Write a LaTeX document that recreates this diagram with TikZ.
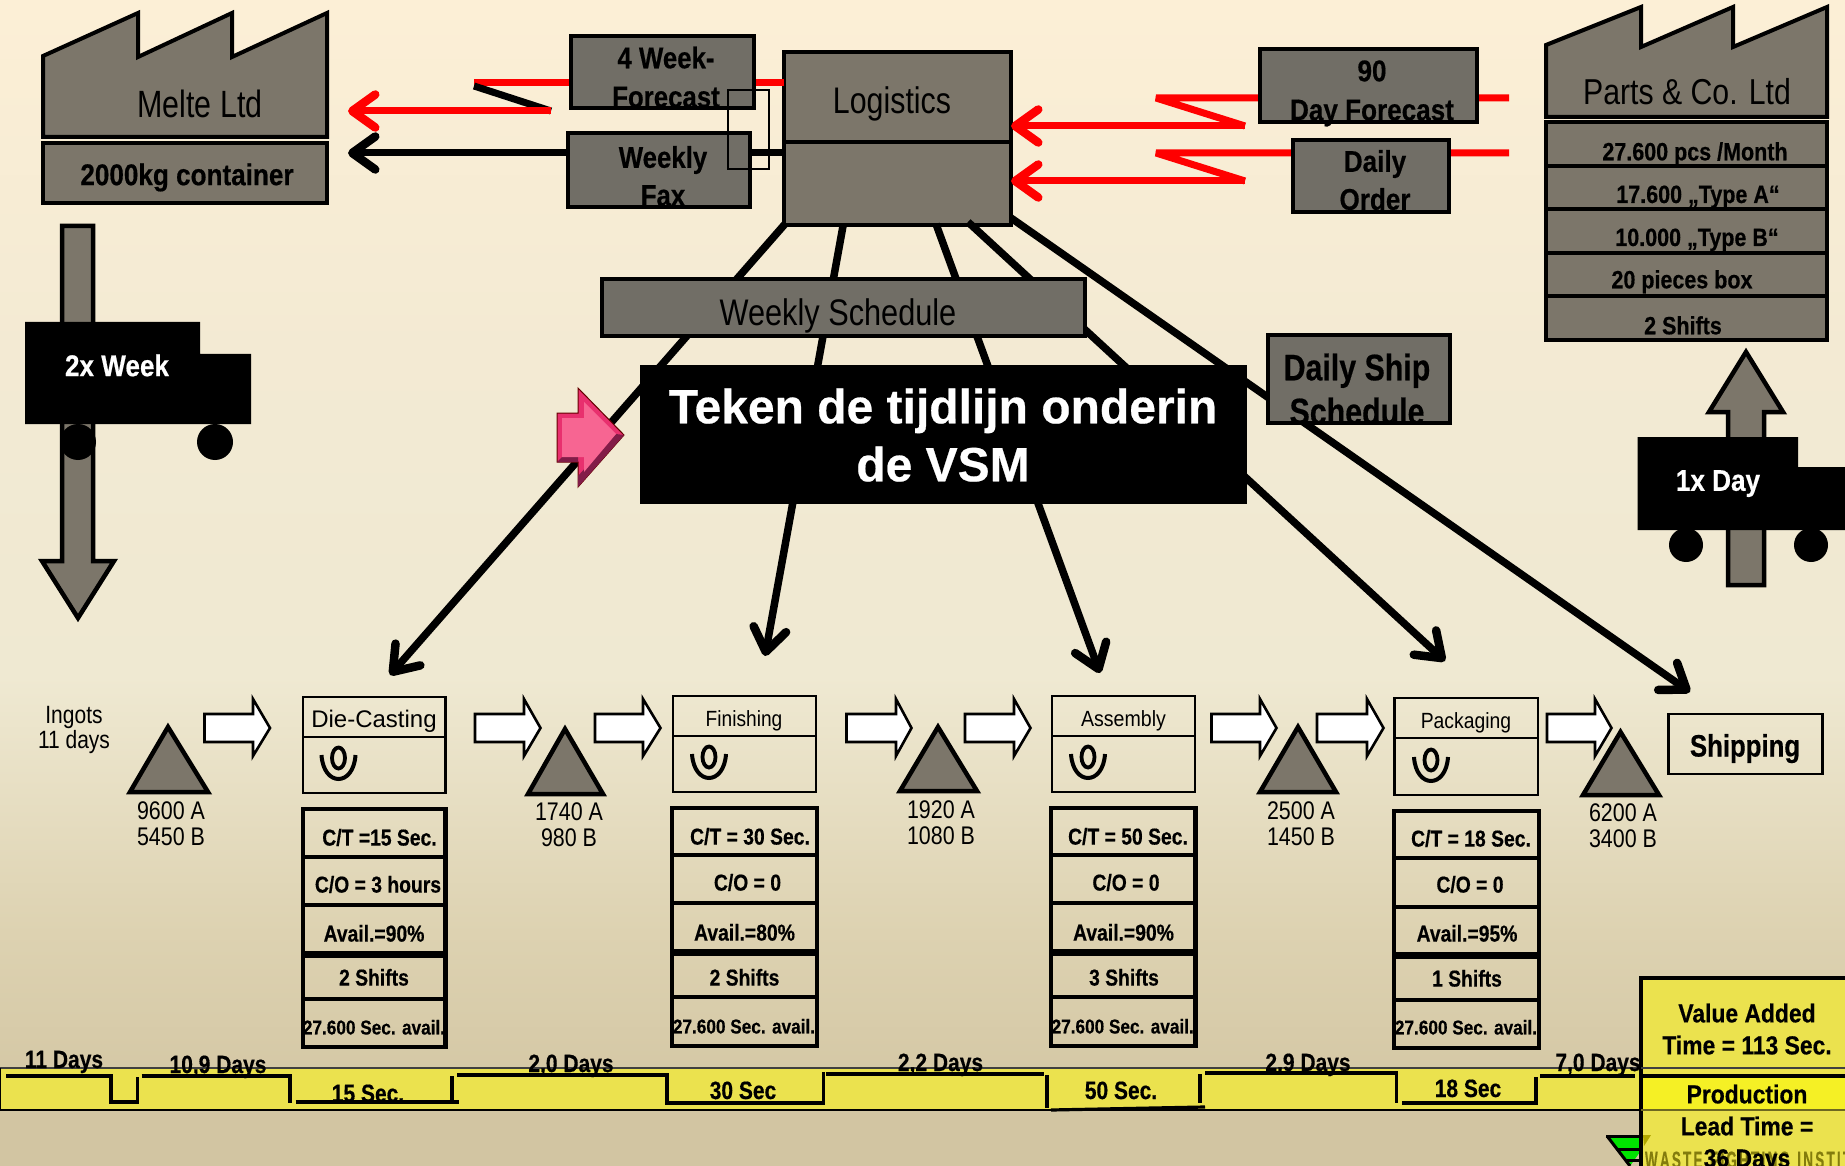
\documentclass[tikz,border=0pt]{standalone}
\usepackage{fontspec}
\setmainfont{Liberation Sans}[BoldFeatures={FakeBold=0.5}]
\usetikzlibrary{arrows.meta,calc}
\definecolor{gf}{HTML}{7C766A}
\definecolor{gt}{HTML}{716E66}
\definecolor{stripY}{HTML}{EBE24E}
\definecolor{prodY}{HTML}{F5F025}
\definecolor{cT}{HTML}{FCEFD6}
\definecolor{cM}{HTML}{F3EAD3}
\definecolor{cN}{HTML}{EFE9D2}
\definecolor{cO}{HTML}{DDD2B1}
\definecolor{cB}{HTML}{D2C5A2}
\pgfdeclareverticalshading{bgs}{100bp}{color(0bp)=(cB); color(25bp)=(cB); color(27bp)=(cB); color(35bp)=(cO); color(46bp)=(cN); color(60bp)=(cM); color(75bp)=(cT); color(100bp)=(cT)}
\tikzset{
  x=1pt,y=-1pt,
  barb/.tip={Straight Barb[length=23pt,width=33pt,line width=8.5pt,round]},
  box/.style={draw=black,line width=4pt,fill=gf,inner sep=0,outer sep=0},
  tbox/.style={box,fill=gt},
  wbox/.style={draw=black,line width=2.2pt,inner sep=0,outer sep=0},
  dbox/.style={draw=black,line width=4.2pt,inner sep=0,outer sep=0},
  lbl/.style={inner sep=0,outer sep=0,text=black},
  conn/.style={line width=7.5pt,draw=black,-barb},
  sig/.style={line width=7pt,draw=red,line join=bevel},
  sigh/.style={sig,-barb},
  stepline/.style={line width=3.2pt,draw=black},
  blockarrow/.style={draw=black,line width=2.6pt,fill=white,miter limit=10},
  tria/.style={draw=black,line width=4.5pt,fill=gf,line join=miter},
}
% name, x1,y1,x2,y2, style, text
\newcommand\bx[7]{\node[#6,minimum width={#4pt-#2pt},minimum height={#5pt-#3pt}] (#1) at ({(#2+#4)/2},{(#3+#5)/2}) {#7};}
% name, x, y, size, skip, xscale, font cmds, text
\newcommand\lbt[8]{\node[lbl] (#1) at ({#2},{#3+.36*#4-.2*#5}) {\fontsize{#4}{#5}\selectfont #7\scalebox{#6}[1]{\begin{tabular}{@{}c@{}}#8\end{tabular}}};}
\newcommand\lb[7]{\lbt{#1}{#2}{#3}{#4}{#4}{#5}{#6}{#7}}
\newcommand\wa[3]{\draw[blockarrow] (#1,714)--(#2,714)--(#2,699)--(#3,728)--(#2,756)--(#2,742)--(#1,742)--cycle;}
\newcommand\tri[5]{\draw[tria] (#1,#2)--(#4,#5)--(#3,#5)--cycle;}
\newcommand\oper[2]{\draw[line width=3.8pt] (#1,#2) ellipse[x radius=6.5,y radius=10.5];
  \draw[line width=4pt] ({#1-17},{#2-3}) .. controls ({#1-15},{#2+29}) and ({#1+15},{#2+29}) .. ({#1+17},{#2-3});}
\begin{document}
\begin{tikzpicture}
\useasboundingbox (0,0) rectangle (1845,1166);
\begin{scope}
\clip (0,0) rectangle (1845,1166);
\shade[shading=bgs] (0,0) rectangle (1845,1166);

% ---------- connectors from Logistics
\bx{lgt}{784}{52}{1011}{142}{box}{}
\bx{lgb}{784}{142}{1011}{225}{box}{}
\coordinate (s1) at (785,224); \coordinate (e1) at (390,675);
\coordinate (s2) at (843,226); \coordinate (e2) at (765,656);
\coordinate (s3) at (936,224); \coordinate (e3) at (1100,673);
\coordinate (s4) at (968,222); \coordinate (e4) at (1445,661);
\coordinate (s5) at (1011,218); \coordinate (e5) at (1690,692);
\draw[conn] (s1)--(e1);
\draw[conn] (s2)--(e2);
\draw[conn] (s3)--(e3);
\draw[conn] (s4)--(e4);
\draw[conn] (s5)--(e5);

% ---------- signal lines left
\coordinate (z1a) at (474,83); \coordinate (z1b) at (551,111);
\coordinate (t1) at (348,111); \coordinate (t2) at (348,153);
\draw[sig] (lgt.west|-z1a)--(z1a);
\draw[line width=7pt] ($(z1a)+(0,3)$)--($(z1b)+(0,0)$);
\draw[sigh] (z1b)--(t1);
\draw[line width=7pt,-barb] (lgb.west|-t2)--(t2);

% ---------- signal lines right
\coordinate (z2a) at (1156,98); \coordinate (z2b) at (1245,126); \coordinate (z2c) at (1509,98);
\coordinate (z3a) at (1156,153); \coordinate (z3b) at (1245,181); \coordinate (z3c) at (1509,153);
\draw[sig] (z2c)--(z2a)--(z2b);
\draw[sigh] (z2b)--(lgt.east|-z2b);
\draw[sig] (z3c)--(z3a)--(z3b);
\draw[sigh] (z3b)--(lgb.east|-z3b);

% ---------- factories
\draw[line width=4pt,fill=gf,line join=miter] (43,137)--(43,56)--(138,13)--(138,57)--(232,13)--(232,57)--(327,13)--(327,137)--cycle;
\lb{melte}{200}{103}{38}{.8}{}{Melte Ltd}
\bx{cont}{43}{143}{327}{203}{box}{}
\lb{contl}{187}{174}{30}{.87}{\bfseries}{2000kg container}
\draw[line width=4pt,fill=gf,line join=miter] (1546,117)--(1546,45)--(1641,7)--(1641,47)--(1733,7)--(1733,47)--(1827,7)--(1827,117)--cycle;
\lb{parts}{1687}{91}{36}{.84}{}{Parts \& Co. Ltd}
\bx{pr1}{1546}{122}{1827}{166}{box}{}
\bx{pr2}{1546}{166}{1827}{209}{box}{}
\bx{pr3}{1546}{209}{1827}{253}{box}{}
\bx{pr4}{1546}{253}{1827}{296}{box}{}
\bx{pr5}{1546}{296}{1827}{340}{box}{}
\lb{prl1}{1695}{151}{25}{.86}{\bfseries}{27.600 pcs /Month}
\lb{prl2}{1698}{194}{25}{.86}{\bfseries}{17.600 „Type A“}
\lb{prl3}{1697}{237}{25}{.86}{\bfseries}{10.000 „Type B“}
\lb{prl4}{1682}{279}{25}{.86}{\bfseries}{20 pieces box}
\lb{prl5}{1683}{325}{25}{.86}{\bfseries}{2 Shifts}

% ---------- info boxes
\bx{fc}{571}{36}{754}{108}{tbox}{}
\lbt{fcl}{666}{77}{30}{39}{.86}{\bfseries}{4 Week-\\Forecast}
\bx{fax}{568}{133}{750}{207}{tbox}{}
\lbt{faxl}{663}{176}{30}{38}{.86}{\bfseries}{Weekly\\Fax}
\lb{lgl}{892}{100}{37}{.82}{}{Logistics}
\draw[line width=1.6pt] (728,90) rectangle (769,169);
\bx{dfc}{1260}{49}{1477}{122}{tbox}{}
\lbt{dfcl}{1372}{90}{30}{39}{.87}{\bfseries}{90\\Day Forecast}
\bx{dor}{1293}{140}{1449}{212}{tbox}{}
\lbt{dorl}{1375}{180}{30}{38}{.87}{\bfseries}{Daily\\Order}
\bx{ws}{602}{279}{1085}{336}{tbox}{}
\lb{wsl}{838}{312}{37}{.83}{}{Weekly Schedule}
\bx{dss}{1268}{335}{1450}{423}{tbox}{}
\lbt{dssl}{1357}{389}{37}{44}{.82}{\bfseries}{Daily Ship\\Schedule}

% ---------- inbound / outbound trucks
\draw[line width=4.5pt,fill=gf] (62,226)--(93,226)--(93,561)--(114,561)--(78,618)--(42,561)--(62,561)--cycle;
\fill[black] (25,322)--(200,322)--(200,354)--(251,354)--(251,424)--(25,424)--cycle;
\fill[black] (78,442) circle[radius=18]; \fill[black] (215,442) circle[radius=18];
\lb{tr1}{117}{365}{30}{.87}{\bfseries\color{white}}{2x Week}
\draw[line width=4.5pt,fill=gf] (1728,585)--(1764,585)--(1764,412)--(1783,412)--(1746,352)--(1709,412)--(1728,412)--cycle;
\fill[black] (1637.5,437)--(1798,437)--(1798,467)--(1850,467)--(1850,530)--(1637.5,530)--cycle;
\fill[black] (1686,545) circle[radius=17]; \fill[black] (1811,545) circle[radius=17];
\lb{tr2}{1718}{480}{30}{.87}{\bfseries\color{white}}{1x Day}

% ---------- black notice with pink arrow
\fill[black] (640,365) rectangle (1247,504);
\lbt{noticel}{943}{435}{48}{58}{1}{\bfseries\color{white}}{Teken de tijdlijn onderin\\de VSM}
\draw[draw=black!60!red,line width=1pt,fill={rgb,255:red,232;green,48;blue,110}] (557,413)--(578,413)--(578,388)--(624,435)--(578,487)--(578,462)--(557,462)--cycle;
\fill[fill={rgb,255:red,130;green,28;blue,72}] (624,435)--(578,487)--(578,476)--(616,434)--cycle;
\fill[fill={rgb,255:red,130;green,28;blue,72}] (557,462)--(578,462)--(578,457)--(562,457)--cycle;
\fill[fill={rgb,255:red,247;green,101;blue,146}] (562,418)--(584,418)--(584,402)--(616,434)--(584,472)--(584,457)--(562,457)--cycle;

% ---------- inventory row
\lbt{ing}{74}{727}{25}{25}{.84}{}{Ingots\\11 days}
\wa{204.5}{253}{270}
\wa{475}{524}{540.5}
\wa{595}{643}{660.5}
\wa{846.5}{896}{911.5}
\wa{965}{1014}{1030.5}
\wa{1211.5}{1260}{1276.5}
\wa{1317}{1367}{1383.5}
\wa{1547}{1595}{1611.5}
\tri{168}{727}{130}{208}{792}
\tri{565}{729}{528}{603}{794}
\tri{938}{727}{900}{977}{791}
\tri{1298}{727}{1260}{1336}{792}
\tri{1620.5}{732}{1583}{1659}{795}
\lbt{inv1}{171}{823}{25.5}{26}{.84}{}{9600 A\\5450 B}
\lbt{inv2}{569}{824}{25.5}{26}{.84}{}{1740 A\\980 B}
\lbt{inv3}{941}{822}{25.5}{26}{.84}{}{1920 A\\1080 B}
\lbt{inv4}{1301}{823}{25.5}{26}{.84}{}{2500 A\\1450 B}
\lbt{inv5}{1623}{825}{25.5}{26}{.84}{}{6200 A\\3400 B}

% ---------- process boxes
\bx{p1a}{303}{697}{445.5}{737}{wbox}{}
\bx{p1b}{303}{737}{445.5}{793}{wbox}{}
\lb{p1l}{374}{719}{24}{1}{}{Die-Casting}
\oper{338.5}{758}
\bx{p2a}{673}{696}{816}{736}{wbox}{}
\bx{p2b}{673}{736}{816}{792}{wbox}{}
\lb{p2l}{744}{718}{22}{.87}{}{Finishing}
\oper{709}{757}
\bx{p3a}{1052}{696}{1195}{736}{wbox}{}
\bx{p3b}{1052}{736}{1195}{792}{wbox}{}
\lb{p3l}{1123.5}{718}{22}{.89}{}{Assembly}
\oper{1088}{757}
\bx{p4a}{1394.5}{698}{1538}{738}{wbox}{}
\bx{p4b}{1394.5}{738}{1538}{795}{wbox}{}
\lb{p4l}{1466}{720}{22}{.88}{}{Packaging}
\oper{1431}{760}
\bx{ship}{1668.5}{714}{1822.5}{774}{wbox}{}
\lb{shipl}{1745}{745}{31}{.83}{\bfseries}{Shipping}

% ---------- data boxes
\bx{d1a}{303}{809}{445.5}{857}{dbox}{}
\bx{d1b}{303}{857}{445.5}{905}{dbox}{}
\bx{d1c}{303}{905}{445.5}{953}{dbox}{}
\bx{d1d}{303}{956}{445.5}{999}{dbox}{}
\bx{d1e}{303}{999}{445.5}{1047}{dbox}{}
\lb{d1l1}{379.5}{837}{23}{.84}{\bfseries}{C/T =15 Sec.}
\lb{d1l2}{378}{884}{23}{.84}{\bfseries}{C/O = 3 hours}
\lb{d1l3}{374}{933}{23}{.84}{\bfseries}{Avail.=90\%}
\lb{d1l4}{374}{977}{23}{.84}{\bfseries}{2 Shifts}
\lb{d1l5}{374}{1027}{20}{.86}{\bfseries}{27.600 Sec. avail.}

\bx{d2a}{672}{808}{817}{855}{dbox}{}
\bx{d2b}{672}{855}{817}{903}{dbox}{}
\bx{d2c}{672}{903}{817}{951}{dbox}{}
\bx{d2d}{672}{954}{817}{997}{dbox}{}
\bx{d2e}{672}{997}{817}{1046}{dbox}{}
\lb{d2l1}{750}{836}{23}{.84}{\bfseries}{C/T = 30 Sec.}
\lb{d2l2}{747.5}{882}{23}{.84}{\bfseries}{C/O = 0}
\lb{d2l3}{744.5}{932}{23}{.84}{\bfseries}{Avail.=80\%}
\lb{d2l4}{744.5}{977}{23}{.84}{\bfseries}{2 Shifts}
\lb{d2l5}{744}{1026}{20}{.86}{\bfseries}{27.600 Sec. avail.}

\bx{d3a}{1051}{808}{1195.5}{855}{dbox}{}
\bx{d3b}{1051}{855}{1195.5}{903}{dbox}{}
\bx{d3c}{1051}{903}{1195.5}{951}{dbox}{}
\bx{d3d}{1051}{954}{1195.5}{997}{dbox}{}
\bx{d3e}{1051}{997}{1195.5}{1046}{dbox}{}
\lb{d3l1}{1128}{836}{23}{.84}{\bfseries}{C/T = 50 Sec.}
\lb{d3l2}{1126}{882}{23}{.84}{\bfseries}{C/O = 0}
\lb{d3l3}{1123.5}{932}{23}{.84}{\bfseries}{Avail.=90\%}
\lb{d3l4}{1124}{977}{23}{.84}{\bfseries}{3 Shifts}
\lb{d3l5}{1122.7}{1026}{20}{.86}{\bfseries}{27.600 Sec. avail.}

\bx{d4a}{1394}{811}{1539}{858}{dbox}{}
\bx{d4b}{1394}{858}{1539}{907}{dbox}{}
\bx{d4c}{1394}{907}{1539}{954}{dbox}{}
\bx{d4d}{1394}{957}{1539}{1000}{dbox}{}
\bx{d4e}{1394}{1000}{1539}{1048}{dbox}{}
\lb{d4l1}{1471}{838}{23}{.84}{\bfseries}{C/T = 18 Sec.}
\lb{d4l2}{1470}{884}{23}{.84}{\bfseries}{C/O = 0}
\lb{d4l3}{1467}{933}{23}{.84}{\bfseries}{Avail.=95\%}
\lb{d4l4}{1467}{978}{23}{.84}{\bfseries}{1 Shifts}
\lb{d4l5}{1466}{1027}{20}{.86}{\bfseries}{27.600 Sec. avail.}

% ---------- timeline strip
\fill[stripY] (0,1068) rectangle (1645,1110);
\draw[line width=1.6pt,draw=black!75] (0,1068)--(1645,1068);
\draw[line width=2.2pt] (0,1110)--(1645,1110);
\draw[line width=2pt] (0,1068)--(0,1110);
\draw[stepline] (6,1076)--(111,1076)--(111,1102)--(137.5,1102)--(137.5,1077);
\draw[stepline] (141.5,1076)--(290,1076)--(290,1103);
\draw[stepline] (295.5,1102)--(458.5,1102);
\draw[stepline] (452,1076)--(452,1102);
\draw[stepline] (457,1075)--(667,1075)--(667,1103)--(823.5,1103)--(823.5,1072);
\draw[stepline] (825.6,1074)--(1044,1074);
\draw[stepline] (1047,1075)--(1047,1108);
\draw[stepline] (1051,1110)--(1205,1107);
\draw[stepline] (1200,1074)--(1200,1103);
\draw[stepline] (1205,1073)--(1396.6,1073)--(1396.6,1103);
\draw[stepline] (1402,1103)--(1538,1103);
\draw[stepline] (1536,1077)--(1536,1103);
\draw[stepline] (1540,1076)--(1635,1076);
\lb{t1l}{64}{1059}{25}{.84}{\bfseries}{11 Days}
\lb{t2l}{218}{1064}{25}{.84}{\bfseries}{10,9 Days}
\lb{t3l}{368}{1093}{25}{.84}{\bfseries}{15 Sec.}
\lb{t4l}{571}{1063}{25}{.84}{\bfseries}{2,0 Days}
\lb{t5l}{743}{1090}{25}{.84}{\bfseries}{30 Sec}
\lb{t6l}{940.5}{1062}{25}{.84}{\bfseries}{2,2 Days}
\lb{t7l}{1121}{1090}{25}{.84}{\bfseries}{50 Sec.}
\lb{t8l}{1308}{1062}{25}{.84}{\bfseries}{2,9 Days}
\lb{t9l}{1468}{1088}{25}{.84}{\bfseries}{18 Sec}
\lb{t10l}{1598}{1062}{25}{.84}{\bfseries}{7,0 Days}

% ---------- green logo
\fill[green!90!black] (1610,1138)--(1650,1138)--(1630,1166)--cycle;
\draw[line width=3pt] (1606,1136)--(1642,1136);
\draw[line width=3pt] (1607,1136)--(1630,1166);
\draw[line width=3pt] (1618,1149)--(1642,1149);
\draw[line width=3pt] (1626,1160)--(1642,1160);

% ---------- summary panel
\fill[stripY] (1641,978) rectangle (1860,1180);
\fill[prodY] (1641,1076) rectangle (1860,1110);
\fill[olive!70!yellow] (1643,1135)--(1651,1135)--(1644,1146)--cycle;
\draw[line width=4pt] (1641,1180)--(1641,978)--(1860,978);
\draw[line width=1.6pt,draw=black!75] (1641,1068)--(1860,1068);
\draw[line width=4pt] (1641,1076)--(1860,1076);
\draw[line width=1.4pt,draw=olive!70!black] (1641,1110)--(1860,1110);
\lbt{va}{1747}{1029}{26}{32}{.88}{\bfseries}{Value Added\\Time = 113 Sec.}
\node[lbl,anchor=west] (wm) at (1645,1160) {\fontsize{24}{24}\selectfont\bfseries\color{olive!90!black}\scalebox{.56}[1]{W\,A\,S\,T\,E\ \ F\,I\,G\,H\,T\,I\,N\,G\ \ I\,N\,S\,T\,I\,T\,U}};
\lbt{plt}{1747}{1126}{26}{32}{.88}{\bfseries}{Production\\Lead Time =\\36 Days}
\end{scope}
\end{tikzpicture}
\end{document}
